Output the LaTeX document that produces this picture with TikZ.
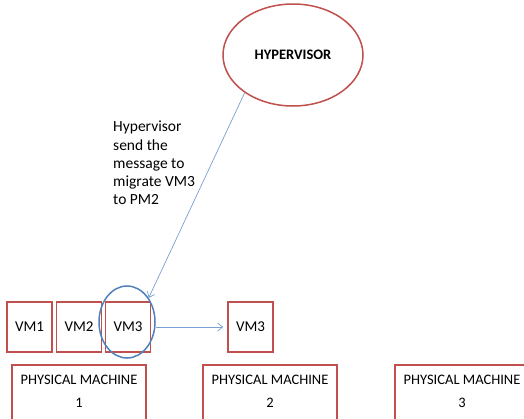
\documentclass[tikz,border=0pt]{standalone}
\usepackage{fontspec}
\setmainfont{Carlito}
\usepackage{tikz}
\usetikzlibrary{shapes.geometric,arrows.meta}
\definecolor{boxred}{RGB}{192,80,77}
\definecolor{selblue}{RGB}{79,129,189}
\definecolor{msgblue}{RGB}{120,160,210}

\begin{document}
\begin{tikzpicture}[x=1pt,y=-1pt,
    vmbox/.style={draw=boxred, line width=1.5pt, minimum width=45pt, minimum height=50pt,
      inner sep=0pt, font=\fontsize{15}{18}\selectfont},
    pmbox/.style={draw=boxred, line width=1.5pt, anchor=north, minimum width=134pt,
      align=center, inner ysep=10pt, text depth=40pt, font=\fontsize{14.5}{23}\selectfont},
    msg/.style={-{Straight Barb[length=5pt,width=8pt]}, msgblue, line width=0.7pt}]
    \useasboundingbox[fill=white] (0,0) rectangle (524,418);
    % Hypervisor
    \node[ellipse, draw=boxred, line width=1.5pt, minimum width=140pt, minimum height=102pt,
      font=\bfseries\fontsize{14.5}{17}\selectfont] (hyp) at (293,55) {HYPERVISOR};
    \node[anchor=north west, align=left, inner sep=0pt, font=\fontsize{15.5}{18.2}\selectfont]
      (note) at (113,121) {Hypervisor\\send the\\message to\\migrate VM3\\to PM2};
    % Virtual machines
    \node[vmbox] (vm1) at (29.5,327) {VM1};
    \node[vmbox] (vm2) at (79,327) {VM2};
    \node[vmbox] (vm3) at (128,327) {VM3};
    \node[vmbox] (vm3new) at (250.5,327) {VM3};
    \node[ellipse, draw=selblue, line width=1.5pt, minimum width=56pt, minimum height=72pt] (sel) at (127,322) {};
    % Physical machines
    \node[pmbox] (pm1) at (79,364) {PHYSICAL MACHINE\\1};
    \node[pmbox] (pm2) at (270,364) {PHYSICAL MACHINE\\2};
    \node[pmbox] (pm3) at (462,364) {PHYSICAL MACHINE\\3};
    % Migration
    \draw[msg] (hyp.218) -- (sel.48);
    \draw[msg, shorten >=4pt] (sel.east |- vm3new.west) -- (vm3new.west);
\end{tikzpicture}
\end{document}
